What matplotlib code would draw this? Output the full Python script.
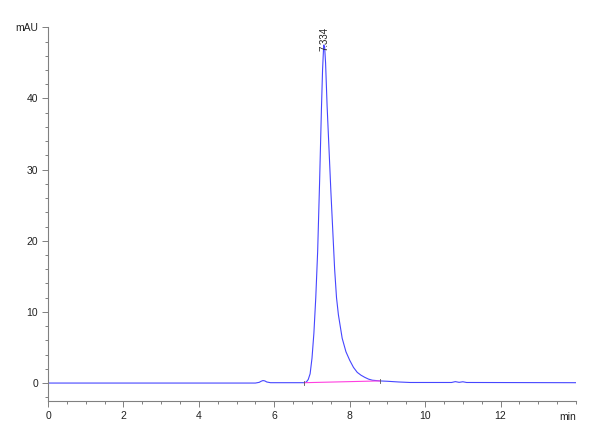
import matplotlib
matplotlib.use('Agg')
import matplotlib.pyplot as plt
from matplotlib.ticker import MultipleLocator, FixedLocator

plt.rcParams['font.family'] = ['Liberation Sans', 'DejaVu Sans']

# chromatogram trace (time in min, signal in mAU)
t = [0.0, 3.6, 5.5, 5.6, 5.65, 5.7, 5.75, 5.8, 5.9, 6.5, 6.8, 6.85, 6.9,
     6.95, 7.0, 7.05, 7.1, 7.15, 7.2, 7.25, 7.28, 7.31, 7.334, 7.36, 7.4,
     7.45, 7.5, 7.55, 7.6, 7.65, 7.7, 7.8, 7.9, 8.0, 8.1, 8.2, 8.3, 8.4,
     8.5, 8.6, 8.8, 9.0, 9.3, 9.6, 10.7, 10.8, 10.9, 11.0, 11.1, 14.0]
mau = [0.0, 0.0, 0.0, 0.1, 0.25, 0.35, 0.3, 0.15, 0.05, 0.05, 0.05, 0.15,
       0.5, 1.3, 3.5, 7.0, 12.0, 18.5, 28.0, 38.5, 44.0, 47.5, 47.3, 45.0,
       39.0, 33.0, 27.0, 21.5, 16.0, 12.0, 9.6, 6.3, 4.4, 3.2, 2.2, 1.5,
       1.1, 0.8, 0.55, 0.4, 0.3, 0.25, 0.15, 0.08, 0.08, 0.2, 0.1, 0.18,
       0.08, 0.05]

# integration baseline under the main peak
base_t = [6.8, 8.8]
base_y = [0.05, 0.3]

peak_rt = 7.334
peak_h = 47.5

fig = plt.figure(figsize=(6, 4.4), dpi=100)
ax = fig.add_axes([0.08, 0.089, 0.88, 0.849])

ax.plot(t, mau, color='#4646ff', lw=0.8)
ax.plot(base_t, base_y, color='#ff40e0', lw=0.8)
for bt, by in zip(base_t, base_y):
    ax.plot([bt, bt], [by - 0.3, by + 0.3], color='#555555', lw=0.6)

ax.text(peak_rt, peak_h - 0.8, '%.3f' % peak_rt, rotation=90, ha='center',
        va='bottom', fontsize=7, color='#222222')

ax.set_xlim(0, 14)
ax.set_ylim(-2.5, 50)

ax.xaxis.set_major_locator(FixedLocator([0, 2, 4, 6, 8, 10, 12]))
ax.xaxis.set_minor_locator(MultipleLocator(0.5))
ax.yaxis.set_major_locator(FixedLocator([0, 10, 20, 30, 40, 50]))
ax.yaxis.set_minor_locator(MultipleLocator(2))
ax.set_yticklabels(['0', '10', '20', '30', '40', 'mAU'])

for s in ['top', 'right']:
    ax.spines[s].set_visible(False)
for s in ['left', 'bottom']:
    ax.spines[s].set_color('#808080')
    ax.spines[s].set_linewidth(0.8)

ax.tick_params(which='major', length=4, width=0.7, color='#808080',
               labelsize=7.5, labelcolor='#222222', pad=3)
ax.tick_params(which='minor', length=2.5, width=0.7, color='#808080')

ax.text(1.0, -0.03, 'min', transform=ax.transAxes, ha='right', va='top',
        fontsize=7.5, color='#222222')

fig.savefig('out.png', dpi=100)
